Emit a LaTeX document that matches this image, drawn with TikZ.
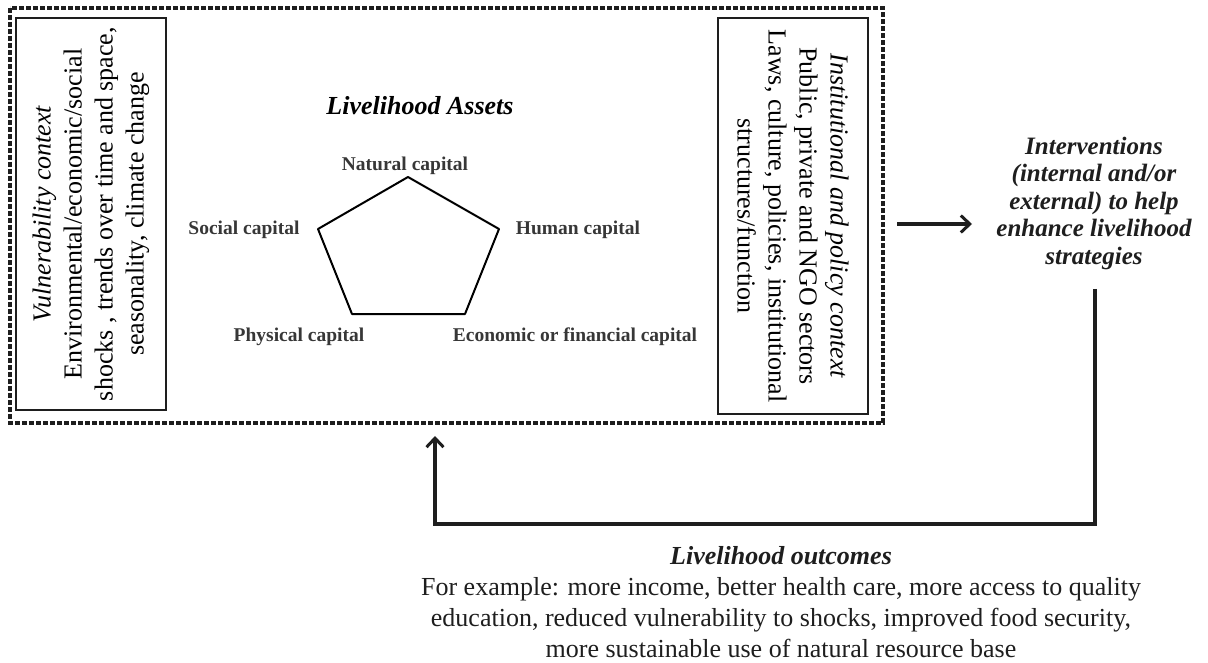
\documentclass[tikz,border=0pt]{standalone}
\usepackage{fontspec}
\setmainfont{Liberation Serif}
\usetikzlibrary{arrows.meta}
\definecolor{ink}{RGB}{30,30,30}
\definecolor{label}{RGB}{55,55,55}

\tikzset{
    contextbox/.style={draw=ink, line width=1.2pt, minimum height=150pt, align=center,
        font=\fontsize{26}{31}\selectfont},
    capital/.style={text=label, font=\bfseries\fontsize{19.5}{21}\selectfont},
    flowarrow/.style={ink, line width=3.2pt, -{Straight Barb[length=9pt, width=17pt, line width=3pt]}}
}

\begin{document}
\begin{tikzpicture}[x=1pt, y=-1pt]
        \useasboundingbox (0,0) rectangle (1208,663);
        % outer dotted frame
        \draw[ink, line width=3.8pt, dash pattern=on 5pt off 2pt] (10,8) rectangle (883,423);
        % the two context boxes
        \node(vuln)[contextbox, rotate=90, minimum width=392pt] at (91,214)
            {\textit{Vulnerability context}\\Environmental/economic/social\\shocks , trends over time and space,\\seasonality, climate change};
        \node(inst)[contextbox, rotate=-90, minimum width=396pt] at (793,216)
            {\textit{Institutional and policy context}\\Public, private and NGO sectors\\Laws, culture, policies, institutional\\structures/function};
        % asset pentagon
        \node(assets) at (420,106) {\bfseries\itshape\fontsize{26}{28}\selectfont Livelihood Assets};
        \coordinate(nat) at (408,177);
        \coordinate(hum) at (499,229);
        \coordinate(eco) at (465,314);
        \coordinate(phy) at (352,314);
        \coordinate(soc) at (318,229);
        \draw[label, line width=2pt, line join=round] (nat)--(hum)--(eco)--(phy)--(soc)--cycle;
        \node(natl)[capital] at (405,166) {Natural capital};
        \node(huml)[capital] at (578,230) {Human capital};
        \node(ecol)[capital] at (575,337) {Economic or financial capital};
        \node(phyl)[capital] at (299,337) {Physical capital};
        \node(socl)[capital] at (244,230) {Social capital};
        % interventions
        \node(interv)[align=center, text=ink, font=\bfseries\itshape\fontsize{25}{27.5}\selectfont] at (1094,203)
            {Interventions\\(internal and/or\\external) to help\\enhance livelihood\\strategies};
        \coordinate(outl) at (897,224);
        \coordinate(outr) at (972,224);
        \draw[flowarrow] (outl)--(outr);
        % feedback loop
        \coordinate(fbtop) at (1095,289);
        \coordinate(fbtip) at (435,436);
        \draw[flowarrow] (fbtop)--++(0,235) -| (fbtip);
        \node(outcome)[align=center, text=ink, anchor=north, font=\fontsize{26}{31}\selectfont] at (781,543)
            {\textbf{\textit{Livelihood outcomes}}\\For example: more income, better health care, more access to quality\\education, reduced vulnerability to shocks, improved food security,\\more sustainable use of natural resource base};
    \end{tikzpicture}
\end{document}
